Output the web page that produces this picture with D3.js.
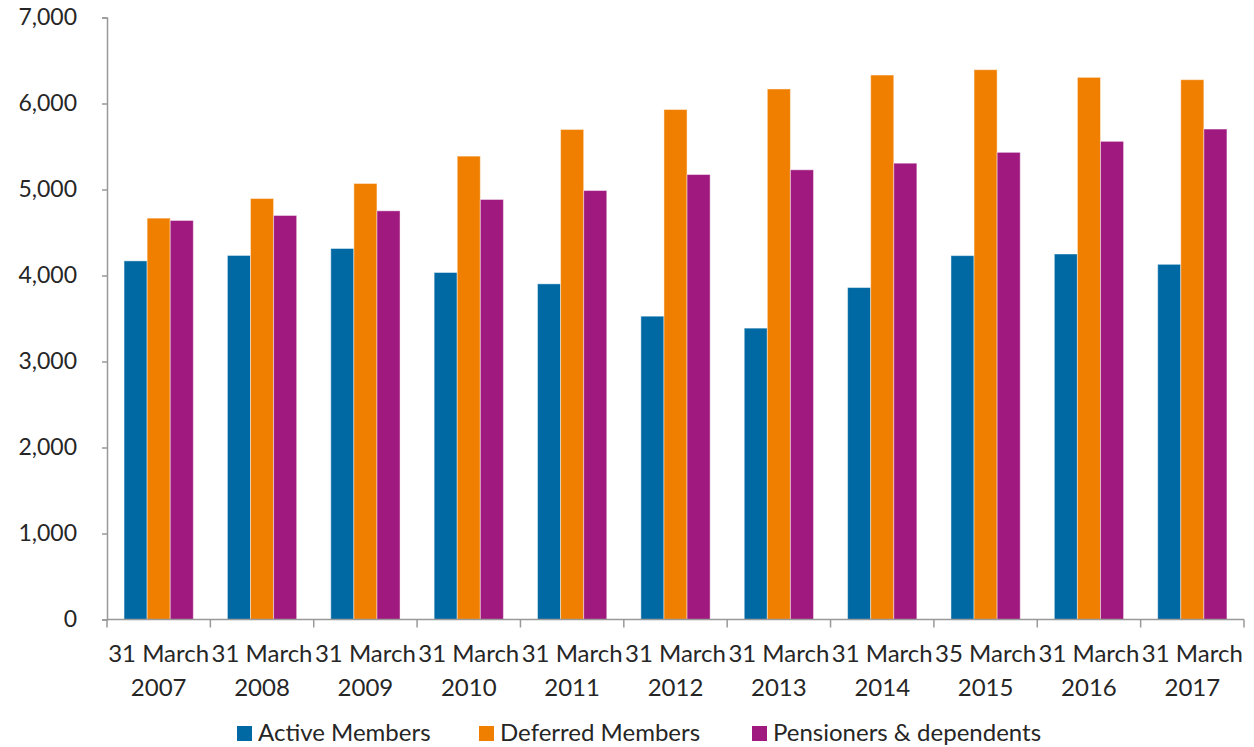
<!DOCTYPE html>
<html>
<head>
<meta charset="utf-8">
<script src="https://cdn.jsdelivr.net/npm/d3@7"></script>
<style>
  body { margin: 0; background: #fff; }
  svg text { font-family: Lato, "Open Sans", sans-serif; fill: #262626; }
</style>
</head>
<body>
<svg id="chart" width="1254" height="747"></svg>
<script>
const categories = ['31 March|2007', '31 March|2008', '31 March|2009', '31 March|2010', '31 March|2011',
  '31 March|2012', '31 March|2013', '31 March|2014', '35 March|2015', '31 March|2016', '31 March|2017'];
const seriesNames = ['Active Members', 'Deferred Members', 'Pensioners & dependents'];
const activeMembers = [4170, 4233, 4314, 4035, 3903, 3527, 3388, 3860, 4231, 4250, 4130];
const deferredMembers = [4667, 4895, 5070, 5388, 5698, 5930, 6169, 6331, 6393, 6304, 6277];
const pensioners = [4640, 4698, 4752, 4884, 4988, 5174, 5229, 5306, 5432, 5560, 5703];
const yTicks = [0, 1000, 2000, 3000, 4000, 5000, 6000, 7000];

const colors = ['#0069a4', '#f07f00', '#a0197f'];
const values = [activeMembers, deferredMembers, pensioners];

const margin = { top: 17.5, right: 10, bottom: 128, left: 107 };
const width = 1244 - margin.left;
const height = 619.5 - margin.top;

const svg = d3.select('#chart');
const g = svg.append('g')
  .attr('transform', `translate(${margin.left},${margin.top})`);

const x0 = d3.scaleBand()
  .domain(categories)
  .range([0, width])
  .padding(0);

const gap = x0.bandwidth() * 0.165;
const x1 = d3.scaleBand()
  .domain(seriesNames)
  .range([gap, x0.bandwidth() - gap])
  .padding(0);

const y = d3.scaleLinear()
  .domain([0, 7000])
  .range([height, 0]);

// bars
seriesNames.forEach((name, s) => {
  g.append('g')
    .selectAll('rect')
    .data(values[s])
    .enter().append('rect')
    .attr('x', (d, i) => x0(categories[i]) + x1(name))
    .attr('y', d => y(d))
    .attr('width', x1.bandwidth())
    .attr('height', d => y(0) - y(d))
    .attr('fill', colors[s])
    .attr('stroke', 'rgba(255,255,255,0.45)')
    .attr('stroke-width', 1);
});

// y axis
const yAxis = g.append('g')
  .call(d3.axisLeft(y).tickValues(yTicks).tickSize(5).tickPadding(25)
    .tickFormat(d3.format(',')));
yAxis.select('.domain').attr('stroke', '#999').attr('stroke-width', 1.5);
yAxis.selectAll('.tick line').attr('stroke', '#999').attr('stroke-width', 1.5);
yAxis.selectAll('.tick text').style('font-size', '23px').attr('fill', '#262626');

// x axis: ticks on category boundaries
const boundaries = categories.map(c => x0(c)).concat([width]);
const xAxis = g.append('g').attr('transform', `translate(0,${height})`);
xAxis.append('line')
  .attr('x1', 0).attr('x2', width)
  .attr('stroke', '#999').attr('stroke-width', 1.5);
xAxis.selectAll('.bt')
  .data(boundaries)
  .enter().append('line')
  .attr('x1', d => d).attr('x2', d => d)
  .attr('y1', 0).attr('y2', 8)
  .attr('stroke', '#999').attr('stroke-width', 1.5);

const labels = xAxis.selectAll('.lbl')
  .data(categories)
  .enter().append('text')
  .attr('text-anchor', 'middle')
  .attr('x', d => x0(d) + x0.bandwidth() / 2)
  .style('font-size', '24px');
labels.append('tspan')
  .attr('x', d => x0(d) + x0.bandwidth() / 2)
  .attr('y', 42.5)
  .text(d => d.split('|')[0]);
labels.append('tspan')
  .attr('x', d => x0(d) + x0.bandwidth() / 2)
  .attr('y', 76.5)
  .text(d => d.split('|')[1]);

// legend
const legendX = [237, 479, 752];
const legend = svg.append('g');
seriesNames.forEach((name, s) => {
  legend.append('rect')
    .attr('x', legendX[s]).attr('y', 726)
    .attr('width', 15).attr('height', 15)
    .attr('fill', colors[s]);
  legend.append('text')
    .attr('x', legendX[s] + 21).attr('y', 741)
    .style('font-size', '24px')
    .text(name);
});
</script>
</body>
</html>
